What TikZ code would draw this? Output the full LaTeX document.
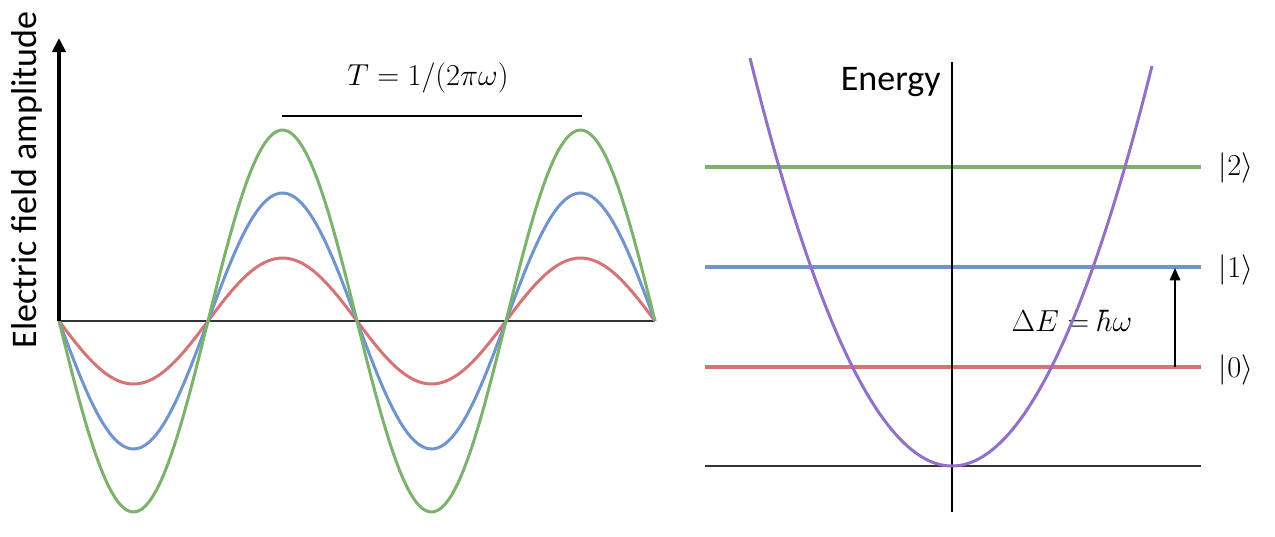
\documentclass[tikz,border=0pt]{standalone}
\usepackage{fontspec}
\setmainfont{Carlito}
\usetikzlibrary{arrows.meta}
\definecolor{wavegreen}{RGB}{124,178,108}
\definecolor{waveblue}{RGB}{112,148,204}
\definecolor{wavered}{RGB}{214,116,116}
\definecolor{wellpurple}{RGB}{146,112,200}
\tikzset{
  wave/.style={line width=1.7pt},
  level/.style={line width=1.8pt},
  lbl/.style={font=\fontsize{20.5}{24}\selectfont, inner sep=0pt},
  mathlbl/.style={font=\fontsize{19}{22}\selectfont, inner sep=0pt}
}
\begin{document}
\begin{tikzpicture}[x=0.02cm,y=-0.02cm]
  \useasboundingbox (0,0) rectangle (1275,537);

  % left: field amplitude
  \coordinate (O) at (59,321);
  \coordinate (Ytop) at (59,38);
  \coordinate (Xend) at (655,321);
  \coordinate (P1) at (282,116);
  \coordinate (P2) at (582,116);
  \node[lbl, rotate=90, anchor=base] (ylab) at (36,180) {Electric field amplitude};
  \node[mathlbl, anchor=base] (period) at (428,86) {$T=1/(2\pi\omega)$};

  \draw[line width=1.1pt, black!80] (O) -- (Xend);
  \draw[wavered, wave] plot[domain=59:655, samples=160] (\x,{321+63*sin((\x-59)*1.20805)});
  \draw[waveblue, wave] plot[domain=59:655, samples=160] (\x,{321+128*sin((\x-59)*1.20805)});
  \draw[wavegreen, wave] plot[domain=59:655, samples=160] (\x,{321+191*sin((\x-59)*1.20805)});
  \draw[line width=2.8pt, -{Triangle[length=8pt,width=7.5pt]}] (O) -- (Ytop);
  \draw[line width=0.7pt] (P1) -- (P2);

  % right: energy levels
  \coordinate (Etop) at (952,62);
  \coordinate (Ebot) at (952,512);
  \coordinate (L0a) at (705,466);
  \coordinate (L0b) at (1201,466);
  \node[lbl, anchor=base east] (energy) at (941,91) {Energy};
  \node[mathlbl] (k2) at (1236,168) {$|2\rangle$};
  \node[mathlbl] (k1) at (1236,270) {$|1\rangle$};
  \node[mathlbl] (k0) at (1236,370) {$|0\rangle$};
  \node[mathlbl, anchor=base] (gap) at (1072,331) {$\Delta E=\hbar\omega$};
  \coordinate (A0) at (1175,367);
  \coordinate (A1) at (1175,268);

  \draw[level, wavegreen] (705,167) -- (1201,167);
  \draw[level, waveblue] (705,267) -- (1201,267);
  \draw[level, wavered] (705,367) -- (1201,367);
  \draw[line width=1.1pt, black!80] (L0a) -- (L0b);
  \draw[line width=0.8pt] (Etop) -- (Ebot);
  \draw[wellpurple, wave] plot[domain=750:1152, samples=120] (\x,{466-404*((\x-952)/201)^2});
  \path[-{Triangle[length=7pt,width=6pt]}] (A0) edge[line width=0.7pt] (A1);
\end{tikzpicture}
\end{document}
